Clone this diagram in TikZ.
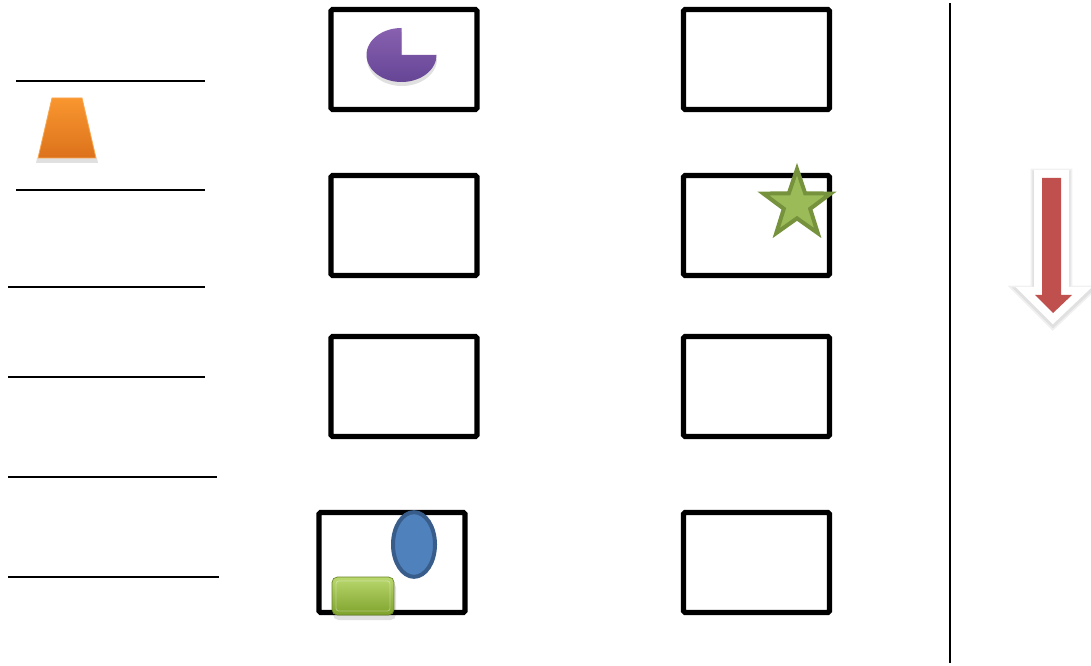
\documentclass[tikz,border=0pt]{standalone}
\usetikzlibrary{shapes.geometric}
\definecolor{starfill}{HTML}{9BBB59}
\definecolor{stardraw}{HTML}{76923C}
\definecolor{ellfill}{HTML}{4F81BD}
\definecolor{elldraw}{HTML}{385D8A}
\definecolor{arrred}{HTML}{C0504D}
\definecolor{pietop}{HTML}{8861B0}
\definecolor{piebot}{HTML}{664596}
\definecolor{trtop}{HTML}{F9962F}
\definecolor{trbot}{HTML}{DC721C}
\definecolor{grtop}{HTML}{B9D86E}
\definecolor{grbot}{HTML}{7FA22C}
\tikzset{
  framebox/.style={draw=black, line width=3.9pt, rounded corners=1.2pt, minimum width=109.5pt, minimum height=75pt, inner sep=0pt},
  rule/.style={draw=black, line width=1.5pt},
  castshadow/.style={fill=black, opacity=0.12}
}
\begin{document}
\begin{tikzpicture}[x=0.75pt,y=-0.75pt]
\useasboundingbox[fill=white] (0,0) rectangle (1091,666);

% frames
\node[framebox] (b1l) at (404,59.5) {};
\node[framebox] (b1r) at (756.5,59.5) {};
\node[framebox] (b2l) at (404,225.5) {};
\node[framebox] (b2r) at (756.5,225.5) {};
\node[framebox] (b3l) at (404,386.5) {};
\node[framebox] (b3r) at (756.5,386.5) {};
\node[framebox] (b4l) at (392,562.5) {};
\node[framebox] (b4r) at (756.5,562.5) {};

% left rules
\draw[rule] (16,81) -- (205,81);
\draw[rule] (16,190) -- (205,190);
\draw[rule] (8,287) -- (205,287);
\draw[rule] (8,377) -- (205,377);
\draw[rule] (8,477) -- (217,477);
\draw[rule] (8,577) -- (219,577);

% vertical separator
\draw[rule] (950,3) -- (950,663);

% trapezoid with shadow
\fill[castshadow] (37,158) -- (97,158) -- (98,163) -- (36,163) -- cycle;
\shade[top color=trtop, bottom color=trbot, draw=trtop!85!white, line width=0.6pt]
  (52,98) -- (82,98) -- (96,158) -- (38,158) -- cycle;

% pie with shadow
\fill[castshadow] plot[domain=0:270,samples=80,variable=\t] ({402+35*cos(\t)},{59+27*sin(\t)}) -- (402,59) -- cycle;
\shade[top color=pietop, bottom color=piebot]
  plot[domain=0:270,samples=80,variable=\t] ({401.5+35*cos(\t)},{55+27*sin(\t)}) -- (401.5,55) -- cycle;

% star
\node[star, star points=5, star point ratio=2.55, draw=stardraw, fill=starfill, line width=3pt, minimum size=53pt, inner sep=0pt] (st) at (797,204.5) {};

% arrow: soft grey halo, white rim, red body
\draw[black, opacity=0.06, line width=17pt, line join=miter, fill=black]
  (1042,180) -- (1061,180) -- (1061,297) -- (1072,297) -- (1053,315) -- (1035,297) -- (1042,297) -- cycle;
\draw[black, opacity=0.06, line width=14.5pt, line join=miter]
  (1042,180) -- (1061,180) -- (1061,297) -- (1072,297) -- (1053,315) -- (1035,297) -- (1042,297) -- cycle;
\draw[white, line width=12pt, line join=miter, fill=arrred]
  (1042,178) -- (1061,178) -- (1061,295) -- (1072,295) -- (1053,313) -- (1035,295) -- (1042,295) -- cycle;
\fill[arrred]
  (1042,178) -- (1061,178) -- (1061,295) -- (1072,295) -- (1053,313) -- (1035,295) -- (1042,295) -- cycle;

% ellipse
\node[ellipse, draw=elldraw, fill=ellfill, line width=3pt, minimum width=31.5pt, minimum height=48.5pt, inner sep=0pt] (el) at (414,544.5) {};

% green rounded block
\fill[castshadow, rounded corners=4pt] (333,582) rectangle (396,620);
\shade[top color=grtop, bottom color=grbot, draw=grbot!80!black, line width=0.5pt, rounded corners=4pt] (332,577) rectangle (394,615);
\draw[white, opacity=0.35, line width=0.6pt, rounded corners=2pt] (336,581) rectangle (390,611);
\end{tikzpicture}
\end{document}
